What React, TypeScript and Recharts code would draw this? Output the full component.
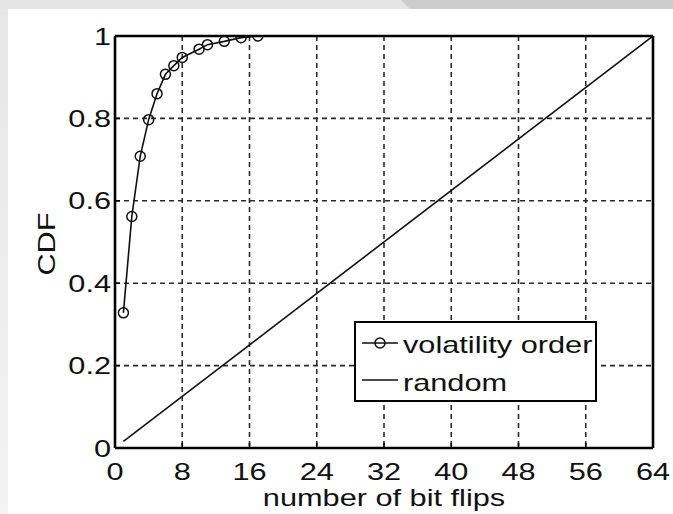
import React from 'react';
import { LineChart, Line, XAxis, YAxis, CartesianGrid, Legend } from 'recharts';

// ---- data ----
const volatilityX = [1, 2, 3, 4, 5, 6, 7, 8, 10, 11, 13, 15, 17];
const volatilityY = [0.328, 0.562, 0.708, 0.797, 0.86, 0.907, 0.928, 0.948, 0.968, 0.979, 0.987, 0.996, 1.0];
const randomX = [1, 64];
const randomY = [0.016, 1.0];
const xTicks = [0, 8, 16, 24, 32, 40, 48, 56, 64];
const yTicks = [0, 0.2, 0.4, 0.6, 0.8, 1];
const yTickLabels = ['0', '0.2', '0.4', '0.6', '0.8', '1'];
const seriesNames = ['volatility order', 'random'];
const xLabel = 'number of bit flips';
const yLabel = 'CDF';

const volatilityData = volatilityX.map((x, i) => ({ x, y: volatilityY[i] }));
const randomData = randomX.map((x, i) => ({ x, y: randomY[i] }));

const FONT = '"Liberation Sans", Arial, Helvetica, sans-serif';
const FS = 24;
const SX = 1.28;
const INK = '#111';

const XTick = (props: any) => {
  const { x, y, payload } = props;
  return (
    <text
      transform={`translate(${x},${y + 37}) scale(${SX},1)`}
      textAnchor="middle"
      fontFamily={FONT}
      fontSize={FS}
      fill={INK}
    >
      {payload.value}
    </text>
  );
};

const YTick = (props: any) => {
  const { x, y, payload } = props;
  const idx = yTicks.findIndex((v) => Math.abs(v - payload.value) < 1e-9);
  const label = idx >= 0 ? yTickLabels[idx] : String(payload.value);
  return (
    <text
      transform={`translate(${x - 9},${y + 8.6}) scale(${SX},1)`}
      textAnchor="end"
      fontFamily={FONT}
      fontSize={FS}
      fill={INK}
    >
      {label}
    </text>
  );
};

const XLabel = (props: any) => {
  const vb = props.viewBox || { x: 115, y: 448, width: 538, height: 50 };
  return (
    <text
      transform={`translate(${vb.x + vb.width / 2},${vb.y + 58}) scale(${SX},1)`}
      textAnchor="middle"
      fontFamily={FONT}
      fontSize={FS}
      fill={INK}
    >
      {xLabel}
    </text>
  );
};

const YLabel = (props: any) => {
  const vb = props.viewBox || { x: 15, y: 36, width: 100, height: 412 };
  return (
    <text
      transform={`translate(${vb.x + 40},${vb.y + vb.height / 2 + 2}) rotate(-90) scale(${SX},1)`}
      textAnchor="middle"
      fontFamily={FONT}
      fontSize={FS}
      fill={INK}
    >
      {yLabel}
    </text>
  );
};

const LegendBox = () => (
  <div
    style={{
      boxSizing: 'border-box',
      width: 243,
      height: 81,
      border: '2px solid #000',
      background: '#fff',
      position: 'relative',
    }}
  >
    <svg width={239} height={77} style={{ position: 'absolute', left: 0, top: 0, overflow: 'visible' }}>
      <line x1={6} y1={20} x2={42} y2={20} stroke={INK} strokeWidth={1.6} />
      <circle cx={24} cy={20} r={5} fill="none" stroke={INK} strokeWidth={1.5} />
      <text transform={`translate(47,30) scale(${SX},1)`} fontFamily={FONT} fontSize={FS} fill={INK}>
        {seriesNames[0]}
      </text>
      <line x1={6} y1={57} x2={42} y2={57} stroke={INK} strokeWidth={1.6} />
      <text transform={`translate(47,68) scale(${SX},1)`} fontFamily={FONT} fontSize={FS} fill={INK}>
        {seriesNames[1]}
      </text>
    </svg>
  </div>
);

const axisLine = { stroke: '#000', strokeWidth: 2.6 };
const tickLine = { stroke: '#000', strokeWidth: 1.6 };

export default function App() {
  return (
    <div
      style={{
        position: 'absolute',
        left: 0,
        top: 0,
        width: 673,
        height: 514,
        overflow: 'hidden',
        background: 'linear-gradient(to bottom, #e6e6e6, #f3f3f3)',
      }}
    >
      <div
        style={{
          position: 'absolute',
          left: 0,
          top: 0,
          width: 673,
          height: 9,
          background: '#e4e4e4',
        }}
      />
      <div
        style={{
          position: 'absolute',
          left: 0,
          top: 0,
          width: 673,
          height: 9,
          background: '#cdcdcd',
          clipPath: 'polygon(401px 0, 673px 0, 673px 9px, 410px 9px)',
        }}
      />
      <div
        style={{
          position: 'absolute',
          left: 8,
          top: 9,
          width: 665,
          height: 505,
          background: '#fff',
        }}
      />
      <div style={{ position: 'absolute', left: 0, top: 0 }}>
        <LineChart width={673} height={514} margin={{ top: 35, right: 19, bottom: 16, left: 15 }}>
          <CartesianGrid stroke="#2a2a2a" strokeWidth={1.6} strokeDasharray="5 4" />
          <XAxis
            xAxisId={0}
            type="number"
            dataKey="x"
            domain={[0, 64]}
            ticks={xTicks}
            interval={0}
            allowDataOverflow
            height={50}
            tickSize={-5}
            tickMargin={0}
            tick={<XTick />}
            axisLine={axisLine}
            tickLine={tickLine}
            label={XLabel}
          />
          <XAxis
            xAxisId="top"
            orientation="top"
            type="number"
            domain={[0, 64]}
            ticks={xTicks}
            interval={0}
            allowDataOverflow
            height={1}
            tickSize={-5}
            tick={false}
            axisLine={axisLine}
            tickLine={tickLine}
          />
          <YAxis
            yAxisId={0}
            type="number"
            domain={[0, 1]}
            ticks={yTicks}
            interval={0}
            allowDataOverflow
            width={100}
            tickSize={-5}
            tickMargin={0}
            tick={<YTick />}
            axisLine={axisLine}
            tickLine={tickLine}
            label={YLabel}
          />
          <YAxis
            yAxisId="right"
            orientation="right"
            type="number"
            domain={[0, 1]}
            ticks={yTicks}
            interval={0}
            allowDataOverflow
            width={1}
            tickSize={-5}
            tick={false}
            axisLine={axisLine}
            tickLine={tickLine}
          />
          <Line
            data={randomData}
            dataKey="y"
            name={seriesNames[1]}
            stroke={INK}
            strokeWidth={1.6}
            dot={false}
            isAnimationActive={false}
          />
          <Line
            data={volatilityData}
            dataKey="y"
            name={seriesNames[0]}
            stroke={INK}
            strokeWidth={1.6}
            dot={{ r: 5, stroke: INK, strokeWidth: 1.5, fill: 'none' }}
            isAnimationActive={false}
          />
          <Legend
            layout="horizontal"
            align="center"
            verticalAlign="middle"
            content={<LegendBox />}
            wrapperStyle={{ left: 354, top: 321, width: 243, height: 81 }}
          />
        </LineChart>
      </div>
    </div>
  );
}
